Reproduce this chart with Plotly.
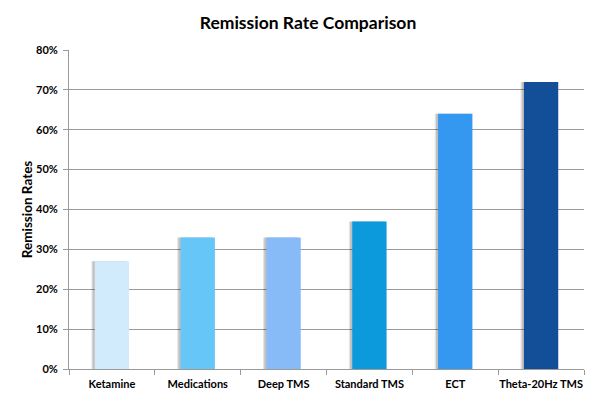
import plotly.graph_objects as go

categories = ["Ketamine", "Medications", "Deep TMS", "Standard TMS", "ECT", "Theta-20Hz TMS"]
values = [0.27, 0.33, 0.33, 0.37, 0.64, 0.72]
colors = ["#D2EBFC", "#66C6F8", "#86BBF8", "#0C9ADD", "#3598F0", "#134F98"]

FONT = "Lato, 'Open Sans', sans-serif"

fig = go.Figure()
# soft shadow layers
fig.add_trace(go.Bar(x=categories, y=values, width=0.4, offset=-0.24,
                     marker=dict(color="rgba(0,0,0,0.10)", line=dict(width=0)),
                     hoverinfo="skip", showlegend=False))
fig.add_trace(go.Bar(x=categories, y=values, width=0.4, offset=-0.225,
                     marker=dict(color="rgba(0,0,0,0.16)", line=dict(width=0)),
                     hoverinfo="skip", showlegend=False))
fig.add_trace(go.Bar(x=categories, y=values, width=0.4, offset=-0.2,
                     marker=dict(color=colors, line=dict(width=0)),
                     showlegend=False))

fig.update_layout(
    width=600, height=399,
    margin=dict(l=61, r=24, t=42, b=38),
    paper_bgcolor="white", plot_bgcolor="white",
    barmode="overlay",
    title=dict(text="<b>Remission Rate Comparison</b>", x=0.5, xanchor="center",
               y=0.962, yanchor="middle",
               font=dict(family=FONT, size=17.5, color="#000")),
    font=dict(family=FONT, color="#000"),
)
fig.update_yaxes(range=[0, 0.8], dtick=0.1, tickformat=".0%",
                 showgrid=True, gridcolor="#9A9A9A", gridwidth=1,
                 showline=True, linecolor="#9A9A9A", linewidth=1,
                 ticks="outside", ticklen=5, tickcolor="#9A9A9A",
                 ticklabelstandoff=3,
                 tickfont=dict(family=FONT, size=11, color="#000", weight="bold"),
                 title=dict(text="<b>Remission Rates</b>", standoff=0,
                            font=dict(family=FONT, size=13.5, color="#000")),
                 zeroline=False, automargin=False)
fig.update_xaxes(showline=True, linecolor="#9A9A9A", linewidth=1,
                 ticks="outside", ticklen=5, tickcolor="#9A9A9A",
                 tickson="boundaries", tickangle=0, automargin=False,
                 ticklabelstandoff=5,
                 tickfont=dict(family=FONT, size=11, color="#000", weight="bold"),
                 range=[-0.5, 5.5])

fig.write_html("out.html")
